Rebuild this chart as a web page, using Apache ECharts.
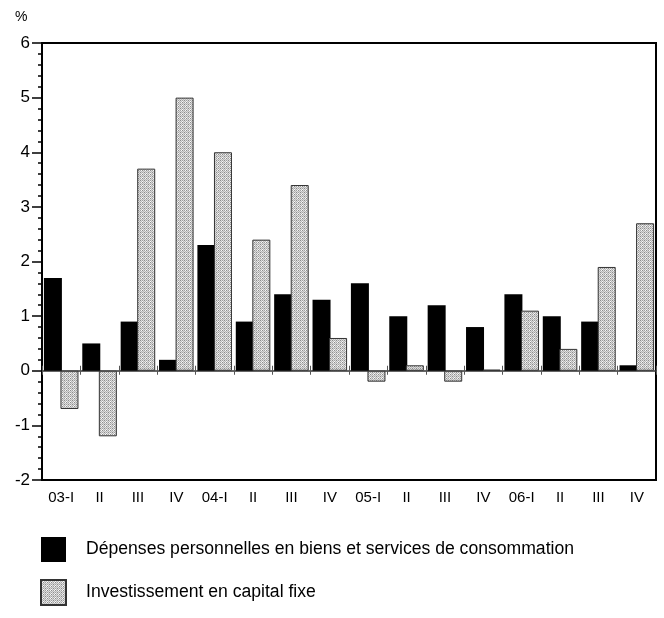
<!DOCTYPE html>
<html>
<head>
<meta charset="utf-8">
<script src="https://cdn.jsdelivr.net/npm/echarts@6/dist/echarts.min.js"></script>
<style>
html,body{margin:0;padding:0;background:#fff;}
#chart{width:664px;height:618px;}
</style>
</head>
<body>
<div id="chart"></div>
<script>
const categories = ['03-I','II','III','IV','04-I','II','III','IV','05-I','II','III','IV','06-I','II','III','IV'];
const consumption = [1.7, 0.5, 0.9, 0.2, 2.3, 0.9, 1.4, 1.3, 1.6, 1.0, 1.2, 0.8, 1.4, 1.0, 0.9, 0.1];
const investment = [-0.7, -1.2, 3.7, 5.0, 4.0, 2.4, 3.4, 0.6, -0.2, 0.1, -0.2, 0.02, 1.1, 0.4, 1.9, 2.7];
const seriesNames = ['Dépenses personnelles en biens et services de consommation', 'Investissement en capital fixe'];
const yUnit = '%';

// dotted pattern for the second series
const pc = document.createElement('canvas');
pc.width = 4; pc.height = 4;
const px = pc.getContext('2d');
const pat = [
  ['#8c8c8c','#dcdcdc','#a0a0a0','#dcdcdc'],
  ['#dcdcdc','#b8b8b8','#f8f8f8','#b8b8b8'],
  ['#a0a0a0','#f8f8f8','#8c8c8c','#dcdcdc'],
  ['#dcdcdc','#b8b8b8','#dcdcdc','#b8b8b8']
];
for (let r = 0; r < 4; r++) for (let c = 0; c < 4; c++) { px.fillStyle = pat[r][c]; px.fillRect(c, r, 1, 1); }

const font = 'Arial, "Liberation Sans", sans-serif';
const chart = echarts.init(document.getElementById('chart'), null, {renderer: 'canvas'});
chart.setOption({
  animation: false,
  backgroundColor: '#fff',
  grid: {left: 42, right: 8, top: 43, bottom: 138, show: true, borderColor: '#000', borderWidth: 2, backgroundColor: 'transparent'},
  graphic: [{type: 'text', left: 15, top: 10, style: {text: yUnit, font: '14px ' + font, fill: '#000'}}],
  legend: {
    orient: 'vertical', left: 35, top: 532, itemWidth: 25, itemHeight: 25, itemGap: 17,
    icon: 'rect',
    textStyle: {fontFamily: font, fontSize: 17.6, color: '#000', padding: [0, 0, 0, 15]},
    selectedMode: false,
    data: seriesNames
  },
  xAxis: [
    {type: 'category', data: categories, position: 'bottom',
     axisLine: {show: false, onZero: false}, axisTick: {show: false},
     axisLabel: {fontFamily: font, fontSize: 15, color: '#000', margin: 10, interval: 0}},
    {type: 'category', data: categories, position: 'top',
     axisLine: {show: true, onZero: true, onZeroAxisIndex: 0, lineStyle: {color: '#333', width: 1.5}},
     axisTick: {show: true, length: 5, lineStyle: {color: '#555', width: 1}},
     axisLabel: {show: false}},
    {type: 'category', data: categories, position: 'bottom',
     axisLine: {show: false, onZero: true, onZeroAxisIndex: 0},
     axisTick: {show: true, length: 4, lineStyle: {color: '#555', width: 1}},
     axisLabel: {show: false}}
  ],
  yAxis: {
    type: 'value', min: -2, max: 6, interval: 1,
    axisLine: {show: true, lineStyle: {color: '#000', width: 2}},
    axisTick: {show: true, length: 10, lineStyle: {color: '#000', width: 1.5}},
    minorTick: {show: true, splitNumber: 5, length: 4, lineStyle: {color: '#000', width: 1.5}},
    splitLine: {show: false},
    axisLabel: {fontFamily: font, fontSize: 17, color: '#000', margin: 12}
  },
  series: [
    {name: seriesNames[0], type: 'bar', xAxisIndex: 0, data: consumption, barWidth: 18, barGap: '-8%',
     itemStyle: {color: '#000'}},
    {name: seriesNames[1], type: 'bar', xAxisIndex: 0, data: investment, barWidth: 18, barGap: '-8%',
     itemStyle: {color: {image: pc, repeat: 'repeat'}, borderColor: '#333', borderWidth: 1}}
  ]
});
</script>
</body>
</html>
